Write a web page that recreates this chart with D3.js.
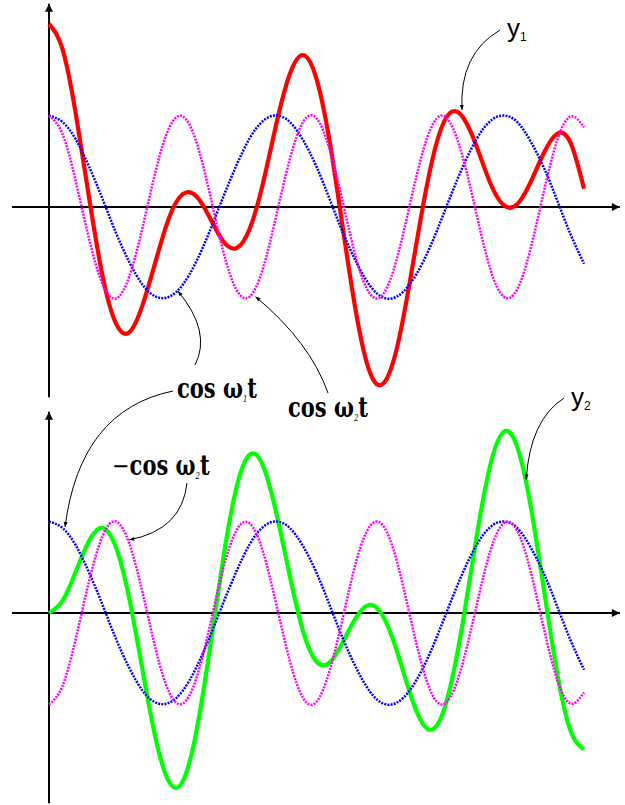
<!DOCTYPE html>
<html>
<head>
<meta charset="utf-8">
<script src="https://cdn.jsdelivr.net/npm/d3@7"></script>
<style>
  html, body { margin: 0; padding: 0; background: #fff; }
  svg { display: block; }
</style>
</head>
<body>
<svg id="chart" width="625" height="805"></svg>
<script>
// ---- data ----
const tValues = [0,0.25,0.5,0.75,1,1.25,1.5,1.75,2,2.25,2.5,2.75,3,3.25,3.5,3.75,4,4.25,4.5,4.75,5,
  5.25,5.5,5.75,6,6.25,6.5,6.75,7,7.25,7.5,7.75,8,8.25,8.5,8.75,9,9.25,9.5,9.75,10];
// cos ω1 t
const cosW1 = [1,0.93,0.74,0.44,0.09,-0.28,-0.6,-0.85,-0.98,-0.98,-0.85,-0.6,-0.27,0.1,0.45,0.75,0.94,1,0.93,0.73,0.44,
  0.08,-0.29,-0.61,-0.86,-0.99,-0.98,-0.84,-0.59,-0.26,0.11,0.46,0.75,0.94,1,0.93,0.72,0.43,0.07,-0.3,-0.62];
// cos ω2 t
const cosW2 = [1,0.8,0.28,-0.35,-0.84,-1,-0.76,-0.22,0.41,0.87,0.99,0.72,0.16,-0.47,-0.9,-0.98,-0.67,-0.09,0.52,0.93,0.97,
  0.62,0.03,-0.58,-0.95,-0.95,-0.57,0.04,0.63,0.97,0.92,0.51,-0.1,-0.68,-0.98,-0.9,-0.46,0.17,0.73,0.99,0.87];
// −cos ω2 t
const negCosW2 = [-1,-0.8,-0.28,0.35,0.84,1,0.76,0.22,-0.41,-0.87,-0.99,-0.72,-0.16,0.47,0.9,0.98,0.67,0.09,-0.52,-0.93,-0.97,
  -0.62,-0.03,0.58,0.95,0.95,0.57,-0.04,-0.63,-0.97,-0.92,-0.51,0.1,0.68,0.98,0.9,0.46,-0.17,-0.73,-0.99,-0.87];
// y1
const y1Values = [2,1.73,1.02,0.1,-0.75,-1.27,-1.37,-1.07,-0.58,-0.11,0.14,0.12,-0.11,-0.37,-0.45,-0.24,0.26,0.91,1.45,1.66,1.4,
  0.7,-0.26,-1.19,-1.81,-1.93,-1.55,-0.8,0.04,0.71,1.03,0.97,0.65,0.26,0.02,0.03,0.27,0.59,0.8,0.7,0.2];
// y2
const y2Values = [0,0.13,0.45,0.79,0.93,0.72,0.16,-0.63,-1.39,-1.85,-1.84,-1.31,-0.42,0.57,1.36,1.73,1.61,1.09,0.41,-0.2,-0.53,
  -0.54,-0.31,-0.04,0.09,-0.04,-0.41,-0.88,-1.22,-1.23,-0.81,-0.05,0.86,1.62,1.98,1.82,1.18,0.26,-0.66,-1.29,-1.49];

const zip = arr => tValues.map((t, i) => [t, arr[i]]);

// ---- layout ----
const svg = d3.select("#chart");
const x = d3.scaleLinear().domain([0, 10]).range([49, 584]);
const yTop = d3.scaleLinear().domain([-1, 1]).range([298.5, 115.5]);
const yBot = d3.scaleLinear().domain([-1, 1]).range([704.5, 521.5]);

const defs = svg.append("defs");
defs.append("marker").attr("id", "axisArrow").attr("viewBox", "0 0 10 10")
  .attr("refX", 10).attr("refY", 5).attr("markerWidth", 5.5).attr("markerHeight", 4)
  .attr("markerUnits", "strokeWidth").attr("orient", "auto")
  .append("path").attr("d", "M0,0 L10,5 L0,10 Z").attr("fill", "#000");
defs.append("marker").attr("id", "noteArrow").attr("viewBox", "0 0 10 10")
  .attr("refX", 10).attr("refY", 5).attr("markerWidth", 6).attr("markerHeight", 5)
  .attr("markerUnits", "userSpaceOnUse").attr("orient", "auto")
  .append("path").attr("d", "M0,1 L10,5 L0,9 Z").attr("fill", "#000");

function panel(yScale, yMaxAxis, yMinAxis) {
  const g = svg.append("g");
  g.append("line")
    .attr("x1", x(-0.69)).attr("x2", x(10.67))
    .attr("y1", yScale(0)).attr("y2", yScale(0))
    .attr("stroke", "#000").attr("stroke-width", 2)
    .attr("marker-end", "url(#axisArrow)");
  g.append("line")
    .attr("x1", x(0)).attr("x2", x(0))
    .attr("y1", yScale(yMinAxis)).attr("y2", yScale(yMaxAxis))
    .attr("stroke", "#000").attr("stroke-width", 2)
    .attr("marker-end", "url(#axisArrow)");
  return g;
}

function curve(g, yScale, data, color, width, dotted) {
  const line = d3.line().x(d => x(d[0])).y(d => yScale(d[1])).curve(d3.curveNatural);
  const p = g.append("path").datum(data).attr("d", line)
    .attr("fill", "none").attr("stroke", color).attr("stroke-width", width)
    .attr("stroke-linejoin", "round");
  if (dotted) p.attr("stroke-dasharray", "2,1.2");
  return p;
}

const topPanel = panel(yTop, 2.22, -2.08);
curve(topPanel, yTop, zip(y1Values), "#ff0000", 4.2, false);
curve(topPanel, yTop, zip(cosW1), "#0000ff", 2.5, true);
curve(topPanel, yTop, zip(cosW2), "#ff00ff", 2.5, true);

const botPanel = panel(yBot, 2.2, -2.08);
curve(botPanel, yBot, zip(y2Values), "#00ff00", 4.2, false);
curve(botPanel, yBot, zip(cosW1), "#0000ff", 2.5, true);
curve(botPanel, yBot, zip(negCosW2), "#ff00ff", 2.5, true);

// ---- annotations ----
function note(p0, c, p1) {
  svg.append("path")
    .attr("d", `M${p0[0]},${p0[1]} Q${c[0]},${c[1]} ${p1[0]},${p1[1]}`)
    .attr("fill", "none").attr("stroke", "#000").attr("stroke-width", 1)
    .attr("marker-end", "url(#noteArrow)");
}
note([500, 30], [459, 54], [x(7.72), yTop(1.06)]);
note([195, 365], [212, 332], [x(2.41), yTop(-0.92)]);
note([328, 393], [310, 342], [x(3.86), yTop(-0.98)]);
note([173, 391], [80, 410], [x(0.3), yBot(0.94)]);
note([187, 483], [182, 530], [x(1.5), yBot(0.8)]);
note([564, 398], [530, 420], [x(8.92), yBot(1.46)]);

function serifLabel(px, py, sub, minus) {
  const t = svg.append("text")
    .attr("transform", `translate(${px},${py}) scale(1,1.3)`)
    .attr("font-family", "'DejaVu Serif', 'Liberation Serif', serif")
    .attr("font-weight", "bold").attr("font-size", 21).attr("fill", "#000");
  if (minus) t.append("tspan").attr("font-weight", "normal").text("\u2212");
  t.append("tspan").text("cos \u03c9");
  t.append("tspan").attr("font-size", 7).attr("font-style", "italic").attr("font-weight", "normal")
    .attr("dy", 3).text(sub);
  t.append("tspan").attr("dy", -3).text("t");
}
serifLabel(177, 398, "1", false);
serifLabel(288, 417, "2", false);
serifLabel(112, 475, "2", true);

function yLabel(px, py, sub) {
  const t = svg.append("text").attr("x", px).attr("y", py)
    .attr("font-family", "'Liberation Sans', Arial, sans-serif")
    .attr("font-size", 26).attr("fill", "#000");
  t.append("tspan").text("y");
  t.append("tspan").attr("font-size", 12).attr("dy", 4).text(sub);
}
yLabel(507, 37, "1");
yLabel(571, 406, "2");
</script>
</body>
</html>
